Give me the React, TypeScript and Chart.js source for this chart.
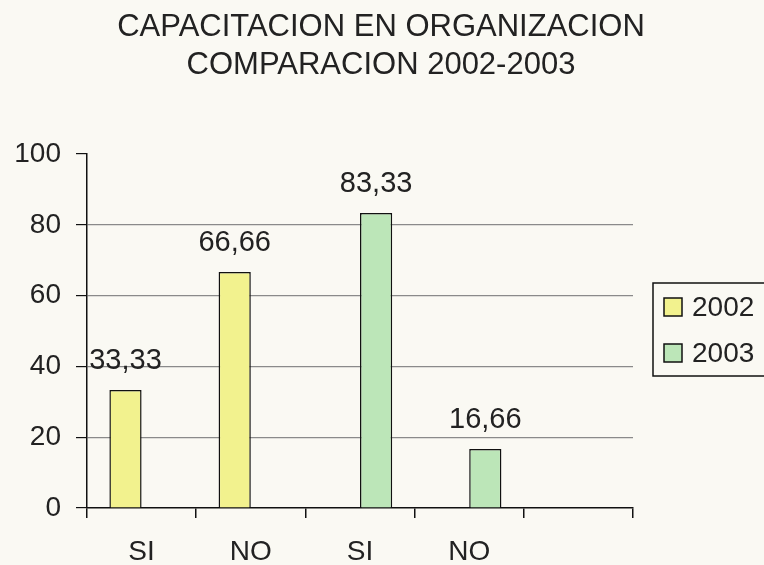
import React, { useEffect, useRef } from "react";
import { Chart, registerables } from "chart.js";

Chart.register(...registerables);

const titleLines = ["CAPACITACION EN ORGANIZACION", "COMPARACION 2002-2003"];
const categories = ["SI", "NO", "SI", "NO", ""];
const seriesNames = ["2002", "2003"];
const values2002 = [33.33, 66.66, null, null, null];
const values2003 = [null, null, 83.33, 16.66, null];
const yTicks = [0, 20, 40, 60, 80, 100];

const COLORS = ["#F2F28E", "#BCE6B8"];
const FONT = "'Liberation Sans', Arial, Helvetica, sans-serif";
const BG = "#FAF9F3";

const fmt = (v: number) => v.toFixed(2).replace(".", ",");

const centeredTitle = {
  id: "centeredTitle",
  afterDraw(chart: any) {
    const ctx = chart.ctx;
    ctx.save();
    ctx.font = `31px ${FONT}`;
    ctx.fillStyle = "#222";
    ctx.textAlign = "center";
    ctx.textBaseline = "middle";
    titleLines.forEach((line, i) => {
      ctx.fillText(line, 381, 27 + i * 38.5);
    });
    ctx.restore();
  },
};

const valueLabels = {
  id: "valueLabels",
  afterDatasetsDraw(chart: any) {
    const ctx = chart.ctx;
    ctx.save();
    ctx.font = `29px ${FONT}`;
    ctx.fillStyle = "#222";
    ctx.textAlign = "center";
    ctx.textBaseline = "alphabetic";
    chart.data.datasets.forEach((ds: any, di: number) => {
      const meta = chart.getDatasetMeta(di);
      meta.data.forEach((el: any, i: number) => {
        const v = ds.data[i];
        if (v === null || v === undefined) return;
        ctx.fillText(fmt(v), el.x, el.y - 21);
      });
    });
    ctx.restore();
  },
};

const boxLegend = {
  id: "boxLegend",
  afterDraw(chart: any) {
    const ctx = chart.ctx;
    const area = chart.chartArea;
    ctx.save();
    const left = area.right + 20;
    const top = 283;
    const h = 93;
    ctx.strokeStyle = "#111";
    ctx.lineWidth = 1.5;
    ctx.strokeRect(left, top, chart.width - left + 10, h);
    ctx.font = `28px ${FONT}`;
    ctx.textBaseline = "middle";
    ctx.textAlign = "left";
    chart.data.datasets.forEach((ds: any, i: number) => {
      const cy = top + 24 + i * 46;
      ctx.fillStyle = ds.backgroundColor;
      ctx.fillRect(left + 11, cy - 9, 18, 18);
      ctx.strokeStyle = "#111";
      ctx.lineWidth = 1.5;
      ctx.strokeRect(left + 11, cy - 9, 18, 18);
      ctx.fillStyle = "#222";
      ctx.fillText(ds.label, left + 39, cy + 1);
    });
    ctx.restore();
  },
};

export default function App() {
  const ref = useRef<HTMLCanvasElement | null>(null);
  useEffect(() => {
    if (!ref.current) return;
    const chart = new Chart(ref.current, {
      type: "bar",
      data: {
        labels: categories,
        datasets: [
          {
            label: seriesNames[0],
            data: values2002,
            backgroundColor: COLORS[0],
            borderColor: "#111",
            borderWidth: 1.5,
            categoryPercentage: 0.59,
            barPercentage: 1.0,
          },
          {
            label: seriesNames[1],
            data: values2003,
            backgroundColor: COLORS[1],
            borderColor: "#111",
            borderWidth: 1.5,
            categoryPercentage: 0.59,
            barPercentage: 1.0,
          },
        ],
      },
      options: {
        animation: false,
        responsive: false,
        layout: { padding: { left: 0, right: 131, top: 154, bottom: 0 } },
        plugins: {
          legend: { display: false },
          tooltip: { enabled: false },
          title: { display: false },
        },
        scales: {
          x: {
            offset: true,
            grid: {
              offset: true,
              drawOnChartArea: false,
              drawTicks: true,
              tickLength: 10,
              color: "#111",
              lineWidth: 1.5,
            },
            border: { color: "#111", width: 1.5 },
            ticks: {
              color: "#222",
              font: { family: FONT, size: 28 },
              padding: 17,
            },
            afterFit(scale: any) {
              scale.height = 57;
            },
          },
          y: {
            min: 0,
            max: 100,
            afterBuildTicks(scale: any) {
              scale.ticks = yTicks.map((v) => ({ value: v }));
            },
            grid: {
              color: (c: any) =>
                c.tick && (c.tick.value === 0 || c.tick.value === 100) ? "rgba(0,0,0,0)" : "#8a8a8a",
              tickColor: "#111",
              lineWidth: 1.2,
              drawTicks: true,
              tickLength: 11,
            },
            border: { color: "#111", width: 1.5 },
            ticks: {
              color: "#222",
              font: { family: FONT, size: 28 },
              padding: 15,
            },
            afterFit(scale: any) {
              scale.width = 87;
            },
          },
        },
      },
      plugins: [centeredTitle, valueLabels, boxLegend],
    });
    return () => chart.destroy();
  }, []);
  return (
    <div style={{ position: "absolute", left: 0, top: 0, width: 764, height: 565, background: BG, overflow: "hidden" }}>
      <canvas ref={ref} width={764} height={565} style={{ display: "block" }} />
    </div>
  );
}
